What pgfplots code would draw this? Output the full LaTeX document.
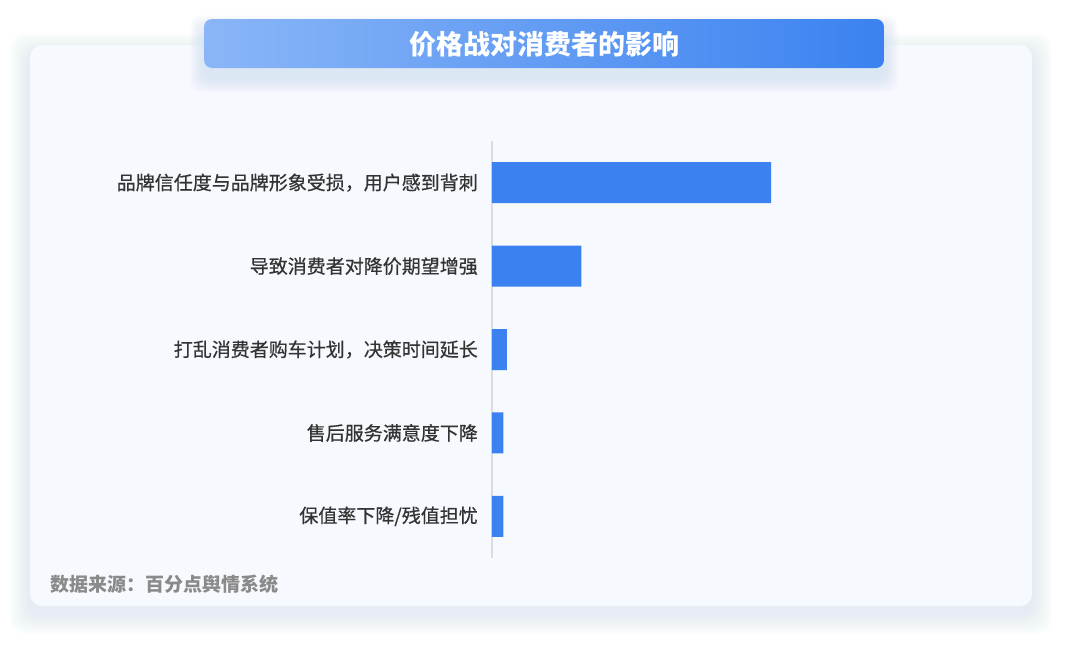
\documentclass[border=0pt]{standalone}
\usepackage{fontspec}
\setmainfont{Noto Sans CJK SC}
\newfontfamily\cjkmed[FakeBold=0.6]{Noto Sans CJK SC}
\usepackage{pgfplots}
\pgfplotsset{compat=1.18}

\definecolor{barblue}{HTML}{3B82F0}
\definecolor{titlelight}{HTML}{8AB6F7}
\definecolor{cardfill}{HTML}{F6F9FE}
\definecolor{glow}{HTML}{C3D5F4}
\definecolor{labeltext}{HTML}{333333}
\definecolor{srctext}{HTML}{8A8A8A}
\definecolor{axisgray}{HTML}{DADCE0}

\begin{document}
\begin{tikzpicture}
  \begin{scope}[x=1pt,y=-1pt]
    \path[use as bounding box, fill=white] (0,0) rectangle (1080,654);
    % soft glow round the card
    \foreach \i in {1,...,20} {
      \fill[glow, opacity=0.02, rounded corners=14pt]
        (30-\i,45-\i+8) rectangle (1032+\i,606+\i+8);
    }
    \fill[cardfill, rounded corners=12pt] (30,45) rectangle (1032,606);
    % glow under the title bar
    \foreach \i in {1,...,14} {
      \fill[glow, opacity=0.035, rounded corners=10pt]
        (204-\i,19-\i+10) rectangle (884+\i,68+\i+10);
    }
    \shade[left color=titlelight, right color=barblue, rounded corners=8pt]
      (204,19) rectangle (884,68);
    \node[text=white, font=\fontsize{27}{30}\selectfont\bfseries] at (544,44)
      {价格战对消费者的影响};
    \node[anchor=west, inner sep=0pt, text=srctext,
          font=\fontsize{19}{22}\selectfont\bfseries] at (50,584)
      {数据来源：百分点舆情系统};
  \end{scope}

  \begin{axis}[
    at={(492pt,-558pt)}, anchor=south west,
    scale only axis, width=500pt, height=417pt,
    xmin=0, xmax=500, ymin=-0.5, ymax=4.5,
    y dir=reverse,
    xbar, bar width=41pt,
    axis x line=none,
    axis y line*=left,
    y axis line style={draw=axisgray, line width=1.5pt},
    ytick={0,1,2,3,4},
    yticklabels={品牌信任度与品牌形象受损，用户感到背刺,
                 导致消费者对降价期望增强,
                 打乱消费者购车计划，决策时间延长,
                 售后服务满意度下降,
                 保值率下降/残值担忧},
    major tick length=0pt,
    ytick style={draw=none},
    yticklabel style={anchor=east, inner sep=0pt, xshift=-14pt,
                      text=labeltext, font=\fontsize{19}{22}\selectfont\cjkmed},
  ]
    \addplot[fill=barblue, draw=none] coordinates {
      (279,0) (89.5,1) (15,2) (11.5,3) (11.5,4)
    };
  \end{axis}
\end{tikzpicture}
\end{document}
